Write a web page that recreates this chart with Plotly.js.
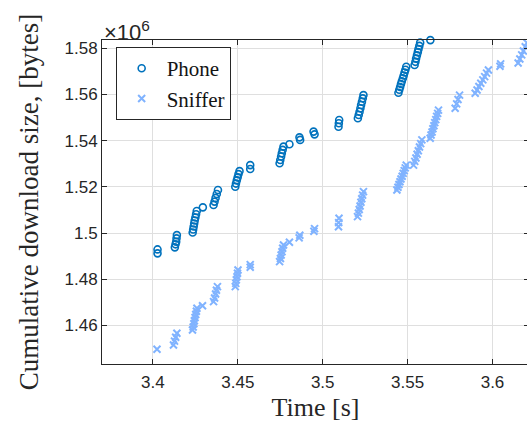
<!DOCTYPE html>
<html>
<head>
<meta charset="utf-8">
<script src="https://cdn.plot.ly/plotly-3.0.1.min.js"></script>
<style>html,body{margin:0;padding:0;overflow:hidden;background:#fff;}#chart{width:529px;height:430px;}</style>
</head>
<body>
<div id="chart"></div>
<script>
// Time [s]
const phoneTime = [
  3.4027, 3.4027,
  3.4129, 3.4133, 3.4137, 3.4139, 3.4141,
  3.4234, 3.4237, 3.4240, 3.4243, 3.4246, 3.4250, 3.4254, 3.4258,
  3.4294,
  3.4357, 3.4363, 3.4369, 3.4376, 3.4383,
  3.4485, 3.4489, 3.4494, 3.4499, 3.4504, 3.4510,
  3.4573, 3.4573,
  3.4746, 3.4750, 3.4755, 3.4759, 3.4764, 3.4769,
  3.4804,
  3.4863, 3.4867,
  3.4946, 3.4952,
  3.5093, 3.5095, 3.5097,
  3.5207, 3.5212, 3.5217, 3.5222, 3.5226, 3.5231, 3.5236, 3.5240,
  3.5446, 3.5451, 3.5456, 3.5461, 3.5466, 3.5472, 3.5477, 3.5482, 3.5487, 3.5492,
  3.5541, 3.5546, 3.5550, 3.5555, 3.5560, 3.5564, 3.5569, 3.5574,
  3.5634
];
// Cumulative download size [x10^6 bytes]
const phoneSize = [
  1.4929, 1.4912,
  1.4938, 1.4951, 1.4962, 1.4977, 1.4991,
  1.5002, 1.5015, 1.5028, 1.5041, 1.5054, 1.5067, 1.5081, 1.5095,
  1.5111,
  1.5121, 1.5136, 1.5152, 1.5169, 1.5186,
  1.5200, 1.5214, 1.5228, 1.5241, 1.5255, 1.5268,
  1.5277, 1.5294,
  1.5302, 1.5316, 1.5331, 1.5345, 1.5360, 1.5374,
  1.5384,
  1.5414, 1.5403,
  1.5439, 1.5427,
  1.5460, 1.5475, 1.5489,
  1.5497, 1.5511, 1.5525, 1.5540, 1.5554, 1.5568, 1.5583, 1.5597,
  1.5607, 1.5620, 1.5632, 1.5645, 1.5657, 1.5670, 1.5682, 1.5695, 1.5707, 1.5720,
  1.5727, 1.5741, 1.5755, 1.5769, 1.5783, 1.5796, 1.5810, 1.5824,
  1.5835
];
const snifferTime = [
  3.4024,
  3.4121, 3.4127, 3.4134, 3.4141,
  3.4233, 3.4237, 3.4241, 3.4244, 3.4248, 3.4252, 3.4256, 3.4259,
  3.4292,
  3.4357, 3.4363, 3.4369, 3.4374, 3.4380,
  3.4485, 3.4488, 3.4491, 3.4495, 3.4498, 3.4501,
  3.4573, 3.4573,
  3.4746, 3.4751, 3.4755, 3.4760, 3.4764, 3.4769,
  3.4804,
  3.4861, 3.4865,
  3.4948, 3.4952,
  3.5093, 3.5094, 3.5096,
  3.5205, 3.5210, 3.5215, 3.5220, 3.5225, 3.5230, 3.5235, 3.5240,
  3.5437, 3.5443, 3.5449, 3.5455, 3.5461, 3.5468, 3.5474, 3.5480, 3.5486, 3.5492,
  3.5535, 3.5542, 3.5549, 3.5556, 3.5563, 3.5570, 3.5577, 3.5584,
  3.5633, 3.5638, 3.5644, 3.5649, 3.5655, 3.5660, 3.5666, 3.5671, 3.5677, 3.5682,
  3.5780, 3.5789, 3.5797, 3.5806,
  3.5898, 3.5909, 3.5920, 3.5931, 3.5943, 3.5954, 3.5965, 3.5976,
  3.6044, 3.6048,
  3.6151, 3.6161, 3.6172, 3.6182, 3.6193, 3.6203
];
const snifferSize = [
  1.4497,
  1.4515, 1.4532, 1.4549, 1.4566,
  1.4580, 1.4593, 1.4607, 1.4620, 1.4634, 1.4647, 1.4661, 1.4674,
  1.4685,
  1.4703, 1.4719, 1.4736, 1.4752, 1.4768,
  1.4768, 1.4782, 1.4797, 1.4811, 1.4826, 1.4840,
  1.4852, 1.4863,
  1.4876, 1.4890, 1.4905, 1.4919, 1.4934, 1.4948,
  1.4960,
  1.4979, 1.4990,
  1.5008, 1.5019,
  1.5027, 1.5045, 1.5064,
  1.5071, 1.5086, 1.5102, 1.5117, 1.5133, 1.5148, 1.5164, 1.5179,
  1.5186, 1.5198, 1.5210, 1.5222, 1.5234, 1.5246, 1.5258, 1.5270, 1.5282, 1.5294,
  1.5294, 1.5310, 1.5325, 1.5341, 1.5356, 1.5372, 1.5387, 1.5403,
  1.5410, 1.5424, 1.5437, 1.5451, 1.5464, 1.5478, 1.5491, 1.5505, 1.5518, 1.5532,
  1.5540, 1.5559, 1.5578, 1.5597,
  1.5605, 1.5619, 1.5634, 1.5648, 1.5663, 1.5677, 1.5692, 1.5706,
  1.5722, 1.5732,
  1.5736, 1.5753, 1.5771, 1.5788, 1.5806, 1.5823
];
const xTickVals = [3.4, 3.45, 3.5, 3.55, 3.6];
const xTickText = ['3.4', '3.45', '3.5', '3.55', '3.6'];
const yTickVals = [1.46, 1.48, 1.5, 1.52, 1.54, 1.56, 1.58];
const yTickText = ['1.46', '1.48', '1.5', '1.52', '1.54', '1.56', '1.58'];
const seriesNames = ['Phone', 'Sniffer'];

const axisColor = 'rgb(38,38,38)';
const gridColor = 'rgb(223,223,223)';
const serif = 'Liberation Serif, Times New Roman, serif';
const sans = 'Liberation Sans, Arial, sans-serif';

const traces = [
  {
    x: phoneTime, y: phoneSize, name: seriesNames[0], type: 'scatter', mode: 'markers',
    cliponaxis: false,
    marker: {symbol: 'circle-open', size: 7, color: '#0072BD', line: {width: 1.6, color: '#0072BD'}}
  },
  {
    x: snifferTime, y: snifferSize, name: seriesNames[1], type: 'scatter', mode: 'markers',
    cliponaxis: false,
    marker: {symbol: 'x-thin-open', size: 7, color: 'rgb(128,179,255)', line: {width: 2, color: 'rgb(128,179,255)'}}
  }
];

const layout = {
  width: 529, height: 430,
  margin: {l: 102, r: 0, t: 40, b: 66},
  paper_bgcolor: '#fff', plot_bgcolor: '#fff',
  showlegend: true,
  legend: {
    x: 0.032, y: 0.978, xanchor: 'left', yanchor: 'top',
    bgcolor: '#fff', bordercolor: axisColor, borderwidth: 1,
    font: {family: serif, size: 21, color: 'rgb(20,20,20)'},
    itemwidth: 40,
    tracegroupgap: 0
  },
  xaxis: {
    range: [3.37, 3.6215],
    tickvals: xTickVals, ticktext: xTickText,
    ticks: 'inside', ticklen: 5, tickcolor: axisColor, tickwidth: 1,
    ticklabelstandoff: 3,
    showline: true, linecolor: axisColor, linewidth: 1, mirror: 'ticks',
    showgrid: true, gridcolor: gridColor, gridwidth: 1, zeroline: false,
    tickfont: {family: sans, size: 17, color: axisColor},
    title: {text: 'Time [s]', font: {family: serif, size: 26, color: axisColor}, standoff: 6}
  },
  yaxis: {
    range: [1.4433, 1.58355],
    tickvals: yTickVals, ticktext: yTickText,
    ticks: 'inside', ticklen: 5, tickcolor: axisColor, tickwidth: 1,
    showline: true, linecolor: axisColor, linewidth: 1, mirror: 'ticks',
    showgrid: true, gridcolor: gridColor, gridwidth: 1, zeroline: false,
    tickfont: {family: sans, size: 17, color: axisColor},
    title: {text: 'Cumulative download size, [bytes]', font: {family: serif, size: 27, color: axisColor}, standoff: 18}
  },
  annotations: [{
    xref: 'paper', yref: 'paper', x: 0, y: 1, xanchor: 'left', yanchor: 'bottom',
    yshift: -7, showarrow: false,
    text: '×10<sup>6</sup>', font: {family: sans, size: 22, color: axisColor}
  }]
};

Plotly.newPlot('chart', traces, layout, {displayModeBar: false, staticPlot: true});
</script>
</body>
</html>
